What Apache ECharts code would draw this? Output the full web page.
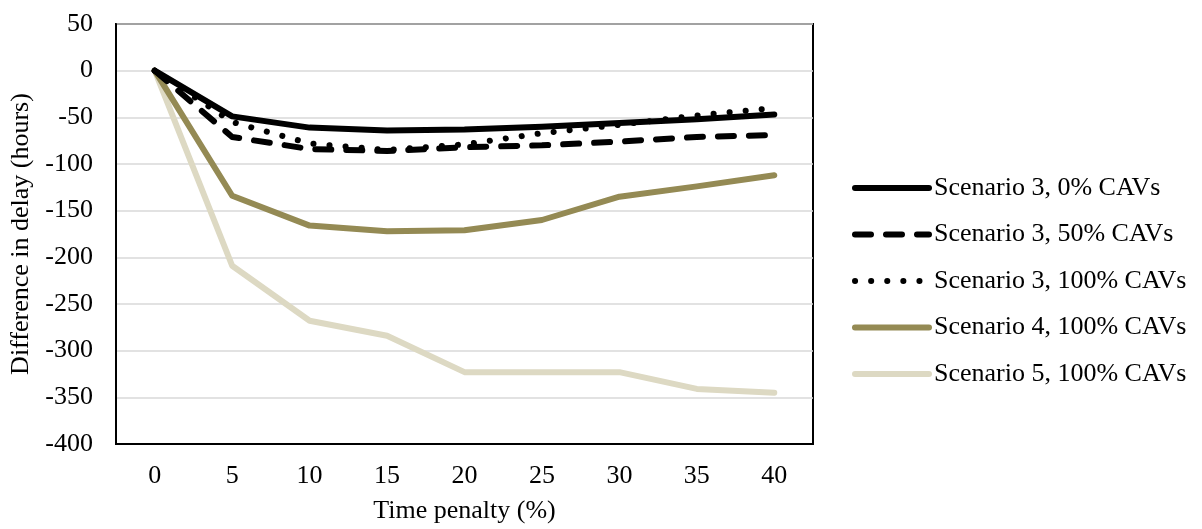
<!DOCTYPE html>
<html>
<head>
<meta charset="utf-8">
<script src="https://cdn.jsdelivr.net/npm/echarts@6/dist/echarts.min.js"></script>
<style>
  html, body { margin: 0; padding: 0; background: #fff; }
  #chart { width: 1202px; height: 529px; }
</style>
</head>
<body>
<div id="chart"></div>
<script>
const penalties = ['0', '5', '10', '15', '20', '25', '30', '35', '40'];

const s3_0 = [0, -49, -61, -64, -63, -60, -56, -52, -47];
const s3_50 = [0, -71, -84, -86, -82, -80, -76, -71, -69];
const s3_100 = [0, -55, -78, -85, -79, -67, -58, -48, -40];
const s4_100 = [0, -134, -166, -172, -171, -160, -135, -124, -112];
const s5_100 = [0, -209, -268, -284, -323, -323, -323, -341, -345];

const seriesNames = [
  'Scenario 3, 0% CAVs',
  'Scenario 3, 50% CAVs',
  'Scenario 3, 100% CAVs',
  'Scenario 4, 100% CAVs',
  'Scenario 5, 100% CAVs'
];

const font = 'Liberation Serif';

const mkLine = (name, data, color, type) => ({
  name: name,
  type: 'line',
  data: data,
  symbol: 'none',
  lineStyle: { color: color, width: 6, type: type, cap: 'round', join: 'round' },
  itemStyle: { color: color },
  emphasis: { disabled: true }
});

const chart = echarts.init(document.getElementById('chart'));
chart.setOption({
  animation: false,
  backgroundColor: '#fff',
  grid: {
    left: 116, right: 389, top: 24, bottom: 85,
    show: true, borderColor: '#000', borderWidth: 2
  },
  legend: {
    orient: 'vertical',
    left: 847,
    top: 170,
    itemWidth: 74,
    itemHeight: 7,
    itemGap: 20.5,
    lineStyle: { width: 6, cap: 'round' },
    itemStyle: { color: 'rgba(0,0,0,0)', borderWidth: 0 },
    textStyle: { fontFamily: font, fontSize: 26, color: '#000' },
    data: seriesNames
  },
  xAxis: {
    type: 'category',
    data: penalties,
    boundaryGap: true,
    name: 'Time penalty (%)',
    nameLocation: 'middle',
    nameGap: 54,
    nameTextStyle: { fontFamily: font, fontSize: 26, color: '#000' },
    axisLine: { show: true, onZero: false, lineStyle: { color: '#000', width: 2 } },
    axisTick: { show: false },
    axisLabel: { fontFamily: font, fontSize: 26, color: '#000', margin: 19 },
    splitLine: { show: false }
  },
  yAxis: {
    type: 'value',
    min: -400,
    max: 50,
    interval: 50,
    name: 'Difference in delay (hours)',
    nameLocation: 'middle',
    nameGap: 79,
    nameRotate: 90,
    nameTextStyle: { fontFamily: font, fontSize: 26, color: '#000' },
    axisLine: { show: true, lineStyle: { color: '#000', width: 2 } },
    axisTick: { show: false },
    axisLabel: { fontFamily: font, fontSize: 26, color: '#000', margin: 23 },
    splitLine: { show: true, lineStyle: { color: '#d9d9d9', width: 1.5 } }
  },
  series: [
    mkLine(seriesNames[4], s5_100, '#ddd9c3', 'solid'),
    mkLine(seriesNames[3], s4_100, '#948a54', 'solid'),
    mkLine(seriesNames[2], s3_100, '#000', [0.1, 16]),
    mkLine(seriesNames[1], s3_50, '#000', [16, 15]),
    mkLine(seriesNames[0], s3_0, '#000', 'solid')
  ]
});
</script>
</body>
</html>
